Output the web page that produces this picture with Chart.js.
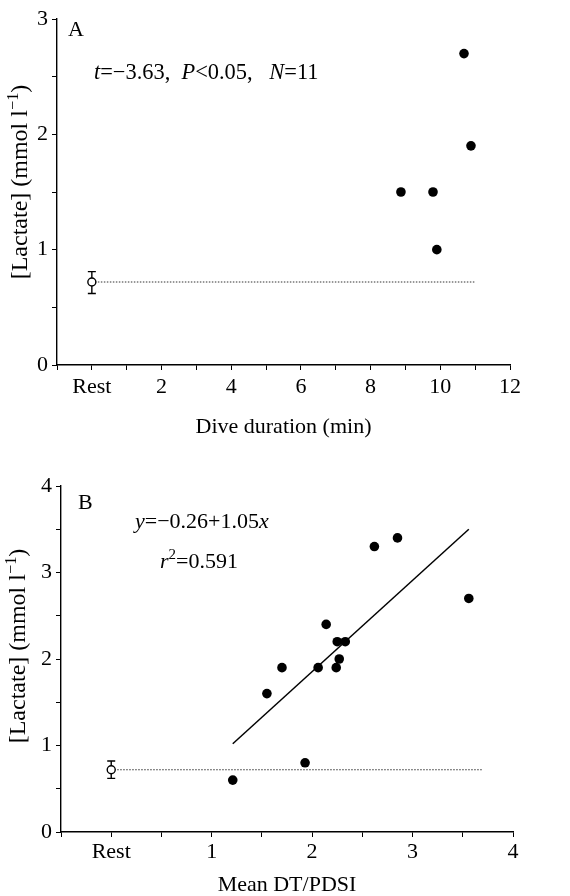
<!DOCTYPE html>
<html>
<head>
<meta charset="utf-8">
<script src="https://cdn.jsdelivr.net/npm/chart.js@4.4.1/dist/chart.umd.min.js"></script>
<style>
  html, body { margin: 0; padding: 0; background: #fff; }
  .panel { position: absolute; left: 0; width: 570px; }
  #wrapA { top: 0; height: 440px; }
  #wrapB { top: 440px; height: 456px; }
</style>
</head>
<body>
<div class="panel" id="wrapA"><canvas id="chartA" width="570" height="440"></canvas></div>
<div class="panel" id="wrapB"><canvas id="chartB" width="570" height="456"></canvas></div>
<script>
// panel A: dive duration vs lactate
const durationA = [8.87, 9.79, 9.9, 10.68, 10.88];
const lactateA = [1.5, 1.5, 1.0, 2.7, 1.9];
const restMeanA = 0.72, restLowA = 0.62, restHighA = 0.81;
const restLineEndA = 11;
const tickValsA = [0, 2, 4, 6, 8, 10, 12];
const tickLabelsA = ['Rest', '2', '4', '6', '8', '10', '12'];

// panel B: mean DT/PDSI vs lactate
const dtB = [1.21, 1.55, 1.70, 1.93, 2.06, 2.14, 2.24, 2.25, 2.27, 2.33, 2.62, 2.85, 3.56];
const lactateB = [0.6, 1.6, 1.9, 0.8, 1.9, 2.4, 1.9, 2.2, 2.0, 2.2, 3.3, 3.4, 2.7];
const fitX = [1.21, 3.56];
const fitY = [1.02, 3.50];
const restMeanB = 0.72, restLowB = 0.62, restHighB = 0.82;
const restLineEndB = 3.7;
const tickValsB = [0, 1, 2, 3, 4];
const tickLabelsB = ['Rest', '1', '2', '3', '4'];

const REST_X = 0;
const FONT = 'Liberation Serif, Times New Roman, serif';
Chart.defaults.font.family = FONT;
Chart.defaults.color = '#000';

const pts = (xs, ys) => xs.map((x, i) => ({ x: x, y: ys[i] }));

// draw a line of mixed roman/italic/superscript text
function richText(ctx, parts, x, y, size) {
  let cx = x;
  parts.forEach(p => {
    const s = p.sup ? size * 0.68 : size;
    ctx.font = (p.i ? 'italic ' : '') + s + 'px ' + FONT;
    ctx.fillText(p.t, cx, p.sup ? y - size * 0.32 : y);
    cx += ctx.measureText(p.t).width;
  });
  return cx - x;
}
function richWidth(ctx, parts, size) {
  let w = 0;
  parts.forEach(p => {
    const s = p.sup ? size * 0.68 : size;
    ctx.font = (p.i ? 'italic ' : '') + s + 'px ' + FONT;
    w += ctx.measureText(p.t).width;
  });
  return w;
}

const yTitleParts = [{ t: '[Lactate] (mmol l' }, { t: '−1', sup: true }, { t: ')' }];

const annot = {
  id: 'annot',
  beforeDatasetsDraw(chart, args, o) {
    // error bar at the resting value
    const ctx = chart.ctx, xs = chart.scales.x, ys = chart.scales.y;
    const px = xs.getPixelForValue(REST_X);
    const top = ys.getPixelForValue(o.hi), bot = ys.getPixelForValue(o.lo);
    ctx.save();
    ctx.strokeStyle = '#000';
    ctx.lineWidth = 1.4;
    ctx.beginPath();
    ctx.moveTo(px, top); ctx.lineTo(px, bot);
    ctx.moveTo(px - 4, top); ctx.lineTo(px + 4, top);
    ctx.moveTo(px - 4, bot); ctx.lineTo(px + 4, bot);
    ctx.stroke();
    ctx.restore();
  },
  afterDraw(chart, args, o) {
    const ctx = chart.ctx;
    ctx.save();
    ctx.fillStyle = '#000';
    ctx.textBaseline = 'middle';
    ctx.textAlign = 'left';
    o.texts.forEach(t => richText(ctx, t.parts, t.x, t.y, t.size || 22));
    // rotated y title
    const size = o.ySize;
    const w = richWidth(ctx, yTitleParts, size);
    ctx.translate(o.yTitleX, o.yTitleY);
    ctx.rotate(-Math.PI / 2);
    richText(ctx, yTitleParts, -w / 2, 0, size);
    ctx.restore();
  }
};

function axisX(min, max, step, vals, labels, height, title, tPad, tLine) {
  return {
    type: 'linear', min: min, max: max,
    afterFit: s => { s.height = height; },
    ticks: {
      stepSize: step, autoSkip: false, maxRotation: 0, padding: tPad,
      font: { size: 22 },
      callback: v => { const i = vals.indexOf(v); return i >= 0 ? labels[i] : ''; }
    },
    grid: { drawOnChartArea: false, drawTicks: true, tickLength: 5, color: '#000', lineWidth: 1 },
    border: { display: true, color: '#000', width: 1.4 },
    title: { display: true, text: title, font: { size: 22, lineHeight: tLine }, padding: { top: 0, bottom: 0 } }
  };
}
function axisY(max, width) {
  return {
    type: 'linear', min: 0, max: max,
    afterFit: s => { s.width = width; },
    ticks: {
      stepSize: 0.5, padding: 4, font: { size: 22 },
      callback: v => Number.isInteger(v) ? String(v) : ''
    },
    grid: { drawOnChartArea: false, drawTicks: true, tickLength: 5, color: '#000', lineWidth: 1 },
    border: { display: true, color: '#000', width: 1.4 }
  };
}

function restSets(mean, end) {
  return [
    { data: [{ x: REST_X, y: mean }], pointRadius: 4, pointBackgroundColor: '#fff',
      pointBorderColor: '#000', pointBorderWidth: 1.4 },
    { data: [{ x: REST_X, y: mean }, { x: end, y: mean }], showLine: true, pointRadius: 0,
      borderColor: '#333', borderWidth: 1.1, borderDash: [1.5, 1.5] }
  ];
}

const rA = restSets(restMeanA, restLineEndA);
new Chart(document.getElementById('chartA'), {
  type: 'scatter',
  data: {
    datasets: [
      rA[0],
      { data: pts(durationA, lactateA), pointRadius: 4.8, pointBackgroundColor: '#000', pointBorderWidth: 0 },
      rA[1]
    ]
  },
  options: {
    responsive: false, animation: false,
    layout: { padding: { top: 19, right: 60, left: 0, bottom: 0 } },
    scales: {
      x: axisX(-1, 12, 1, tickValsA, tickLabelsA, 75, 'Dive duration (min)', 4, 1.2),
      y: axisY(3, 57)
    },
    plugins: {
      legend: { display: false }, tooltip: { enabled: false },
      annot: {
        lo: restLowA, hi: restHighA,
        ySize: 24, yTitleX: 21, yTitleY: 182,
        texts: [
          { x: 68, y: 30, parts: [{ t: 'A' }] },
          { x: 94, y: 73, size: 22.4, parts: [{ t: 't', i: true }, { t: '=−3.63,  ' }, { t: 'P', i: true },
                                   { t: '<0.05,   ' }, { t: 'N', i: true }, { t: '=11' }] }
        ]
      }
    }
  },
  plugins: [annot]
});

const rB = restSets(restMeanB, restLineEndB);
new Chart(document.getElementById('chartB'), {
  type: 'scatter',
  data: {
    datasets: [
      rB[0],
      { data: pts(dtB, lactateB), pointRadius: 4.8, pointBackgroundColor: '#000', pointBorderWidth: 0 },
      { data: pts(fitX, fitY), showLine: true, pointRadius: 0, borderColor: '#000', borderWidth: 1.5 },
      rB[1]
    ]
  },
  options: {
    responsive: false, animation: false,
    layout: { padding: { top: 46, right: 57, left: 0, bottom: 0 } },
    scales: {
      x: axisX(-0.5, 4, 0.5, tickValsB, tickLabelsB, 64, 'Mean DT/PDSI', 2, 1.0),
      y: axisY(4, 61)
    },
    plugins: {
      legend: { display: false }, tooltip: { enabled: false },
      annot: {
        lo: restLowB, hi: restHighB,
        ySize: 24, yTitleX: 19, yTitleY: 206,
        texts: [
          { x: 78, y: 63, parts: [{ t: 'B' }] },
          { x: 135, y: 82, parts: [{ t: 'y', i: true }, { t: '=−0.26+1.05' }, { t: 'x', i: true }] },
          { x: 160, y: 122, parts: [{ t: 'r', i: true }, { t: '2', sup: true }, { t: '=0.591' }] }
        ]
      }
    }
  },
  plugins: [annot]
});
</script>
</body>
</html>
